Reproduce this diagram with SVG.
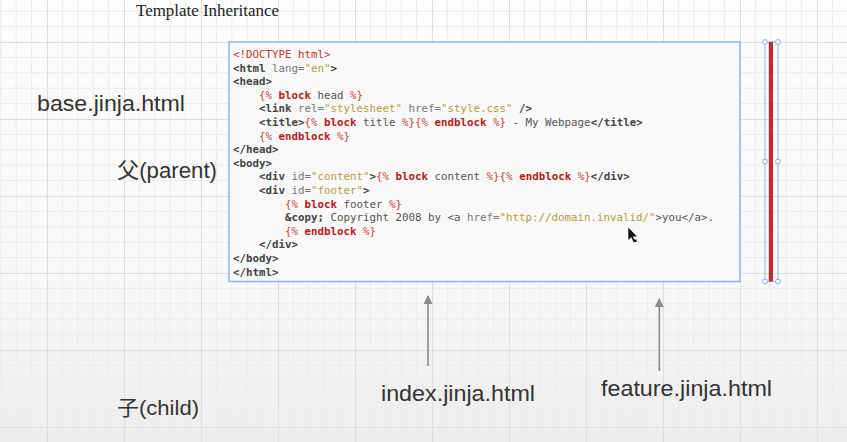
<svg xmlns="http://www.w3.org/2000/svg" width="847" height="442" viewBox="0 0 847 442">
<defs>
<linearGradient id="bg" x1="0" y1="0" x2="0" y2="1">
<stop offset="0" stop-color="#fdfdfd"/>
<stop offset="0.6" stop-color="#f8f8f8"/>
<stop offset="1" stop-color="#ededed"/>
</linearGradient>
<pattern id="grid" patternUnits="userSpaceOnUse" x="47" y="42" width="77" height="77">
<path d="M15.4 0V77M30.8 0V77M46.2 0V77M61.6 0V77M0 15.4H77M0 30.8H77M0 46.2H77M0 61.6H77" stroke="#ebebeb" stroke-width="1" fill="none"/>
<path d="M0.5 0V77M0 0.5H77" stroke="#dedede" stroke-width="1" fill="none"/>
</pattern>
<marker id="arr" viewBox="0 0 10 10" refX="9" refY="5" markerWidth="9" markerHeight="9" markerUnits="userSpaceOnUse" orient="auto">
<path d="M0 0L10 5L0 10Z" fill="#8a8a8a"/>
</marker>
<style>
.lbl{font-family:"Liberation Sans","Noto Sans CJK SC",Arial,sans-serif;font-size:22px;fill:#333}
.ttl{font-family:"Liberation Serif","Times New Roman",serif;font-size:16.5px;fill:#222}
.code{font-family:"DejaVu Sans Mono",monospace;font-size:10.8px;fill:#555}
.tg{font-weight:bold;fill:#444}
.at{fill:#777}
.sv{fill:#b4a03c}
.jd{fill:#c8453c}
.jk{font-weight:bold;fill:#b81820}
.dt{fill:#c0392b}
.handle{fill:#fff;stroke:#8aaef0;stroke-width:1}
.conn{stroke:#8a8a8a;stroke-width:1.6;fill:none}
</style>
</defs>
<rect width="847" height="442" fill="url(#bg)"/>
<rect width="847" height="442" fill="url(#grid)"/>

<g id="title"><text class="ttl" x="136" y="16" textLength="143" lengthAdjust="spacingAndGlyphs">Template Inheritance</text></g>

<g id="base-label"><text class="lbl" x="37" y="111" textLength="148" lengthAdjust="spacingAndGlyphs">base.jinja.html</text></g>
<g id="parent-label"><text class="lbl" x="117" y="178" textLength="100" lengthAdjust="spacingAndGlyphs">父(parent)</text></g>
<g id="child-label"><text class="lbl" x="117" y="415" font-size="21" style="font-size:21px" textLength="82" lengthAdjust="spacingAndGlyphs">子(child)</text></g>
<g id="index-node"><text class="lbl" x="381" y="401" textLength="154" lengthAdjust="spacingAndGlyphs">index.jinja.html</text></g>
<g id="feature-node"><text class="lbl" x="601" y="396" textLength="171" lengthAdjust="spacingAndGlyphs">feature.jinja.html</text></g>

<g id="base-code">
<rect x="229" y="42" width="511" height="239.5" fill="#f8f8f8" stroke="#8fb2ec" stroke-width="1.5"/>
<g class="code">
<text x="233" y="58" xml:space="preserve"><tspan class="dt">&lt;!DOCTYPE html&gt;</tspan></text>
<text x="233" y="71.6" xml:space="preserve"><tspan class="tg">&lt;html</tspan><tspan class="at"> lang=</tspan><tspan class="sv">"en"</tspan><tspan class="tg">&gt;</tspan></text>
<text x="233" y="85.2" xml:space="preserve"><tspan class="tg">&lt;head&gt;</tspan></text>
<text x="259" y="98.8" xml:space="preserve"><tspan class="jd">{% </tspan><tspan class="jk">block</tspan> head <tspan class="jd">%}</tspan></text>
<text x="259" y="112.4" xml:space="preserve"><tspan class="tg">&lt;link</tspan><tspan class="at"> rel=</tspan><tspan class="sv">"stylesheet"</tspan><tspan class="at"> href=</tspan><tspan class="sv">"style.css"</tspan><tspan class="tg"> /&gt;</tspan></text>
<text x="259" y="126" xml:space="preserve"><tspan class="tg">&lt;title&gt;</tspan><tspan class="jd">{% </tspan><tspan class="jk">block</tspan> title <tspan class="jd">%}{% </tspan><tspan class="jk">endblock</tspan><tspan class="jd"> %}</tspan> - My Webpage<tspan class="tg">&lt;/title&gt;</tspan></text>
<text x="259" y="139.6" xml:space="preserve"><tspan class="jd">{% </tspan><tspan class="jk">endblock</tspan><tspan class="jd"> %}</tspan></text>
<text x="233" y="153.2" xml:space="preserve"><tspan class="tg">&lt;/head&gt;</tspan></text>
<text x="233" y="166.8" xml:space="preserve"><tspan class="tg">&lt;body&gt;</tspan></text>
<text x="259" y="180.4" xml:space="preserve"><tspan class="tg">&lt;div</tspan><tspan class="at"> id=</tspan><tspan class="sv">"content"</tspan><tspan class="tg">&gt;</tspan><tspan class="jd">{% </tspan><tspan class="jk">block</tspan> content <tspan class="jd">%}{% </tspan><tspan class="jk">endblock</tspan><tspan class="jd"> %}</tspan><tspan class="tg">&lt;/div&gt;</tspan></text>
<text x="259" y="194" xml:space="preserve"><tspan class="tg">&lt;div</tspan><tspan class="at"> id=</tspan><tspan class="sv">"footer"</tspan><tspan class="tg">&gt;</tspan></text>
<text x="285" y="207.6" xml:space="preserve"><tspan class="jd">{% </tspan><tspan class="jk">block</tspan> footer <tspan class="jd">%}</tspan></text>
<text x="285" y="221.2" xml:space="preserve"><tspan class="tg">&amp;copy;</tspan> Copyright 2008 by &lt;a<tspan class="at"> href=</tspan><tspan class="sv">"http://domain.invalid/"</tspan>&gt;you&lt;/a&gt;.</text>
<text x="285" y="234.8" xml:space="preserve"><tspan class="jd">{% </tspan><tspan class="jk">endblock</tspan><tspan class="jd"> %}</tspan></text>
<text x="259" y="248.4" xml:space="preserve"><tspan class="tg">&lt;/div&gt;</tspan></text>
<text x="233" y="262" xml:space="preserve"><tspan class="tg">&lt;/body&gt;</tspan></text>
<text x="233" y="275.6" xml:space="preserve"><tspan class="tg">&lt;/html&gt;</tspan></text>
</g>
<path d="M628 227L628 240.5L631.2 237.6L633.4 242.4L635.4 241.5L633.3 236.8L637.6 236.8Z" fill="#111" stroke="#fff" stroke-width="0.6"/>
<rect x="634" y="239.5" width="2.5" height="2.5" fill="#111"/>
</g>

<g id="red-bar">
<rect x="765" y="42" width="13" height="239.5" fill="none" stroke="#93b4f0" stroke-width="1"/>
<rect x="768.8" y="42" width="4.2" height="239.5" fill="#c62a2a"/>
<circle class="handle" cx="765" cy="42" r="2.4"/>
<circle class="handle" cx="778" cy="42" r="2.4"/>
<circle class="handle" cx="765" cy="161.5" r="2.4"/>
<circle class="handle" cx="778" cy="161.5" r="2.4"/>
<circle class="handle" cx="765" cy="281.5" r="2.4"/>
<circle class="handle" cx="778" cy="281.5" r="2.4"/>
</g>

<g id="connectors">
<line class="conn" x1="428" y1="366" x2="428" y2="296" marker-end="url(#arr)"/>
<line class="conn" x1="659.3" y1="371" x2="659.3" y2="299" marker-end="url(#arr)"/>
</g>
</svg>
